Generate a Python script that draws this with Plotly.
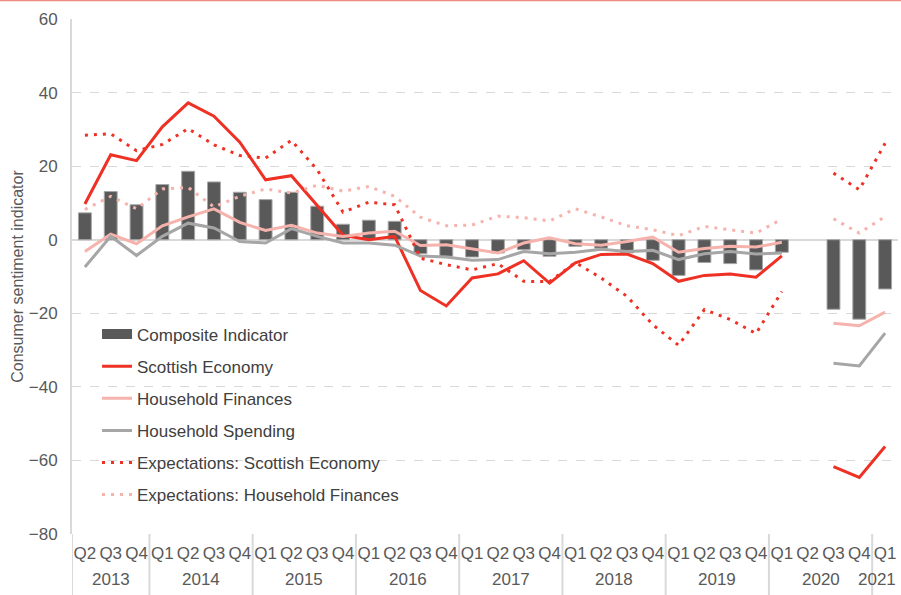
import plotly.graph_objects as go

quarters = ["Q2", "Q3", "Q4"] + ["Q1", "Q2", "Q3", "Q4"] * 7 + ["Q1"]
year_labels = ["2013", "2014", "2015", "2016", "2017", "2018", "2019", "2020", "2021"]
year_counts = [3, 4, 4, 4, 4, 4, 4, 4, 1]

composite = [7.3, 13.1, 9.5, 15.0, 18.6, 15.7, 12.9, 10.9, 12.9, 9.1, 4.2,
             5.3, 5.0, -3.8, -4.5, -4.7, -3.6, -2.7, -4.5, -1.8, -2.3,
             -3.6, -5.6, -9.7, -6.2, -6.5, -8.2, -3.4, None, -18.9, -21.6, -13.4]
scot_econ = [9.7, 23.1, 21.5, 30.7, 37.2, 33.6, 26.5, 16.3, 17.4, 9.3, 1.2,
             0.0, 0.9, -13.8, -18.0, -10.4, -9.3, -5.7, -11.8, -6.3, -4.0,
             -3.9, -6.5, -11.3, -9.7, -9.3, -10.2, -4.4, None, -61.7, -64.6, -56.2]
hh_fin = [-3.2, 1.5, -1.1, 3.8, 6.2, 8.4, 4.7, 2.5, 3.9, 1.8, 0.9,
          1.8, 2.3, -1.6, -1.4, -2.5, -3.6, -0.9, 0.5, -1.1, -1.5,
          -0.5, 0.7, -3.4, -2.4, -1.8, -2.0, -0.7, None, -22.7, -23.4, -19.7]
hh_spend = [-7.4, 0.9, -4.3, 0.9, 4.5, 3.2, -0.5, -0.9, 3.0, 0.9, -0.9,
            -0.9, -1.5, -4.4, -4.7, -5.6, -5.4, -3.2, -3.8, -3.4, -2.6,
            -3.2, -2.9, -5.4, -3.8, -3.2, -3.9, -3.6, None, -33.6, -34.3, -25.4]
exp_scot = [28.4, 28.8, 24.2, 25.9, 30.2, 25.8, 22.9, 22.2, 27.0, 19.0, 7.5,
            10.2, 9.5, -5.0, -6.8, -8.2, -6.5, -11.3, -11.4, -6.2, -10.4,
            -15.4, -23.1, -28.7, -19.0, -21.7, -25.5, -14.1, None, 18.1, 13.6, 26.2]
exp_fin = [8.2, 11.8, 8.4, 13.8, 14.2, 8.9, 11.8, 13.8, 12.7, 14.8, 13.2,
           14.5, 11.8, 6.1, 3.8, 4.0, 6.4, 6.0, 5.1, 8.4, 6.2,
           3.8, 2.7, 1.1, 3.6, 2.7, 1.8, 5.6, None, 5.7, 1.8, 6.3]

y_ticks = [-80, -60, -40, -20, 0, 20, 40, 60]

xi = list(range(len(quarters)))
FONT = "Liberation Sans, Arial, sans-serif"
TXT = "#595959"

fig = go.Figure()
fig.add_trace(go.Bar(x=xi, y=composite, name="Composite Indicator", width=0.5,
                     marker=dict(color="#595959", line=dict(color="#a6a6a6", width=1)),
                     showlegend=False))
# legend entry for the bars (wide rectangle swatch)
fig.add_trace(go.Scatter(x=[None], y=[None], name="Composite Indicator", mode="lines",
                         line=dict(color="#595959", width=12), legendgroup="a"))
fig.add_trace(go.Scatter(x=xi, y=scot_econ, name="Scottish Economy", mode="lines",
                         line=dict(color="#ee3124", width=3), legendgroup="b"))
fig.add_trace(go.Scatter(x=xi, y=hh_fin, name="Household Finances", mode="lines",
                         line=dict(color="#f6b3ad", width=3), legendgroup="c"))
fig.add_trace(go.Scatter(x=xi, y=hh_spend, name="Household Spending", mode="lines",
                         line=dict(color="#a6a6a6", width=3), legendgroup="d"))
fig.add_trace(go.Scatter(x=xi, y=exp_scot, name="Expectations: Scottish Economy", mode="lines",
                         line=dict(color="#ee3124", width=3, dash="3px,6px"), legendgroup="e"))
fig.add_trace(go.Scatter(x=xi, y=exp_fin, name="Expectations: Household Finances", mode="lines",
                         line=dict(color="#f6b3ad", width=3, dash="3px,6px"), legendgroup="f"))

# year group dividers and labels
shapes = []
annotations = []
start = 0
bounds = [-0.5]
for lab, cnt in zip(year_labels, year_counts):
    end = start + cnt
    bounds.append(end - 0.5)
    center = (start + end - 1) / 2
    if lab == "2021":
        annotations.append(dict(x=1.0, xref="paper", y=-0.0893, yref="paper", text=lab,
                                showarrow=False, xanchor="right", yanchor="middle",
                                font=dict(family=FONT, size=17, color=TXT)))
    else:
        annotations.append(dict(x=center, xref="x", y=-0.0893, yref="paper", text=lab,
                                showarrow=False, xanchor="center", yanchor="middle",
                                font=dict(family=FONT, size=17, color=TXT)))
    start = end
for b in bounds[:-1]:
    shapes.append(dict(type="line", xref="x", yref="paper", x0=b, x1=b, y0=0, y1=-0.12,
                       line=dict(color="#d9d9d9", width=2)))
shapes.append(dict(type="line", xref="paper", yref="paper", x0=-0.09, x1=1.01,
                   y0=1.0359, y1=1.0359, line=dict(color="#f08a80", width=1.5)))

fig.update_layout(
    width=901, height=595,
    margin=dict(l=72, r=3, t=19, b=61, autoexpand=False),
    paper_bgcolor="white", plot_bgcolor="white",
    font=dict(family=FONT, size=17, color=TXT),
    showlegend=True,
    legend=dict(x=0.0303, y=0.4222, xanchor="left", yanchor="top",
                bgcolor="rgba(0,0,0,0)", traceorder="grouped", tracegroupgap=7,
                font=dict(family=FONT, size=17, color="#404040")),
    xaxis=dict(range=[-0.5, 31.5], tickvals=xi, ticktext=quarters, tickangle=0,
               showgrid=False, showline=False, zeroline=False, automargin=False,
               ticks="outside", ticklen=4, tickcolor="rgba(0,0,0,0)",
               tickfont=dict(family=FONT, size=17, color=TXT)),
    yaxis=dict(range=[-80, 60], tickvals=y_ticks, showgrid=True, gridcolor="#d9d9d9",
               griddash="dash", gridwidth=1, zeroline=True, zerolinecolor="#d9d9d9",
               zerolinewidth=2, showline=True, linecolor="#d9d9d9", linewidth=2,
               automargin=False,
               ticks="outside", ticklen=9, tickcolor="rgba(0,0,0,0)",
               tickfont=dict(family=FONT, size=17, color=TXT),
               title=dict(text="Consumer sentiment indicator", standoff=1,
                          font=dict(family=FONT, size=16, color=TXT))),
    shapes=shapes,
    annotations=annotations,
)

fig.write_html("out.html", config={"displayModeBar": False},
               post_script="document.body.style.margin='0';document.body.style.padding='0';")
